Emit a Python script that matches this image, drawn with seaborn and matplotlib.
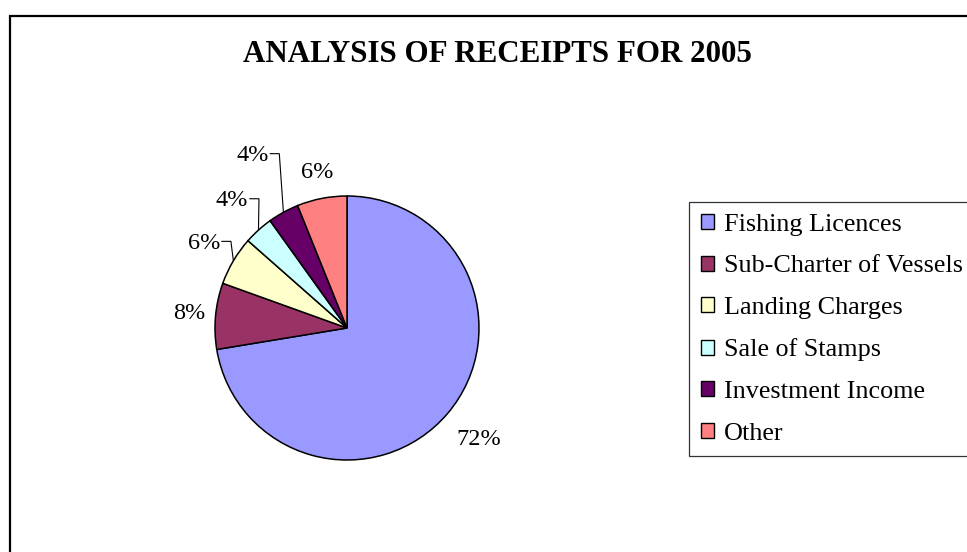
import numpy as np
import matplotlib
matplotlib.use("Agg")
import matplotlib.pyplot as plt
from matplotlib.patches import Rectangle
import seaborn as sns

# Receipts for 2005 (percent of total)
categories = ["Fishing Licences", "Sub-Charter of Vessels", "Landing Charges",
              "Sale of Stamps", "Investment Income", "Other"]
shares = [72.4, 8.1, 6.0, 3.6, 3.8, 6.1]
colors = ["#9999FF", "#993366", "#FFFFCC", "#CCFFFF", "#660066", "#FF8080"]

# label placement tweaks (radius as a multiple of pie radius)
label_dist = [1.31, 1.2, 1.26, 1.3, 1.49, 1.2]
has_leader = [False, False, True, True, True, False]

sns.set_theme(style="white")
plt.rcParams["font.family"] = ["Liberation Serif", "DejaVu Serif"]
plt.rcParams["text.color"] = "black"

fig = plt.figure(figsize=(9.67, 5.52), dpi=100)
W, H = 967, 552
cx, cy, R = 347, 328, 132
ax = fig.add_axes([(cx - 1.5 * R) / W, (H - cy - 1.5 * R) / H, 3 * R / W, 3 * R / H])

palette = sns.color_palette(colors)
wedges, _ = ax.pie(shares, colors=palette, startangle=90, counterclock=False,
                   radius=1.0, wedgeprops=dict(edgecolor="black", linewidth=1.1))
ax.set_xlim(-1.5, 1.5)
ax.set_ylim(-1.5, 1.5)
ax.set_aspect("auto")
ax.axis("off")

total = sum(shares)
for w, val, d, lead in zip(wedges, shares, label_dist, has_leader):
    mid = np.deg2rad((w.theta1 + w.theta2) / 2)
    lx, ly = d * np.cos(mid), d * np.sin(mid)
    ax.text(lx, ly, f"{val / total * 100:.0f}%", ha="center", va="center",
            fontsize=17.5, color="black")
    if lead:
        x0 = lx + 0.135
        x1 = x0 + 0.07
        ex, ey = np.cos(mid), np.sin(mid)
        ax.plot([x0, x1, ex], [ly + 0.015, ly + 0.015, ey], color="black",
                linewidth=0.8, solid_joinstyle="miter")

fig.text(497.5 / W, 1 - 55 / H, "ANALYSIS OF RECEIPTS FOR 2005", ha="center",
         va="center", fontsize=22.3, fontweight="bold", color="black")

leg = fig.legend(wedges, categories, loc="upper left",
                 bbox_to_anchor=(689 / W, 1 - 202 / H), borderaxespad=0,
                 fontsize=18.8, frameon=True, fancybox=False, shadow=False,
                 handlelength=0.5, handleheight=0.5, handletextpad=0.4,
                 labelspacing=0.75, borderpad=0.45)
leg.get_frame().set_edgecolor("black")
leg.get_frame().set_linewidth(0.9)
for t in leg.get_texts():
    t.set_color("black")
for h in leg.legend_handles:
    h.set_edgecolor("black")
    h.set_linewidth(1.0)

# outer chart frame, cut off on right and bottom
fig.patches.append(Rectangle((9.5 / W, -0.2), 1.2, 1.2 - 15.5 / H,
                             transform=fig.transFigure, fill=False,
                             edgecolor="black", linewidth=1.6, clip_on=False))

fig.savefig("out.png", dpi=100)
